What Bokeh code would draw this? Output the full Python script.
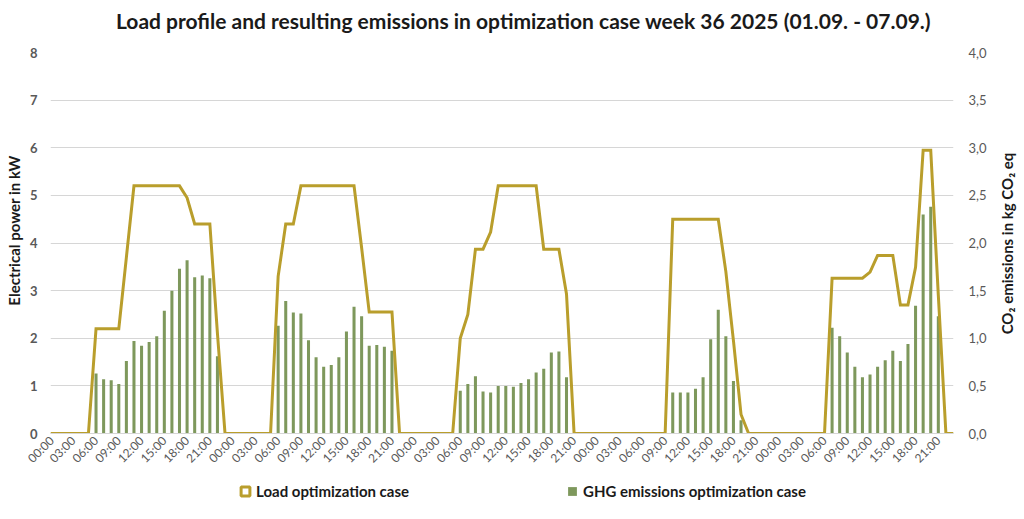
import math
from bokeh.plotting import figure
from bokeh.layouts import column, row
from bokeh.models import (Range1d, LinearAxis, FixedTicker, Legend, LegendItem,
                          ColumnDataSource, Label)
from bokeh.embed import file_html
from bokeh.resources import INLINE

# ---------------- data (hourly, 5 weekdays) ----------------
load_day1 = [0, 0, 0, 0, 0, 0, 2.2, 2.2, 2.2, 2.2, 3.7, 5.2, 5.2, 5.2, 5.2, 5.2, 5.2, 5.2,
             4.95, 4.4, 4.4, 4.4, 2.1, 0]
load_day2 = [0, 0, 0, 0, 0, 0, 3.3, 4.4, 4.4, 5.2, 5.2, 5.2, 5.2, 5.2, 5.2, 5.2, 5.2, 3.9,
             2.55, 2.55, 2.55, 2.55, 0, 0]
load_day3 = [0, 0, 0, 0, 0, 0, 2.0, 2.5, 3.87, 3.87, 4.23, 5.2, 5.2, 5.2, 5.2, 5.2, 5.2, 3.87,
             3.87, 3.87, 2.93, 0, 0, 0]
load_day4 = [0, 0, 0, 0, 0, 0, 0, 0, 0, 0, 4.5, 4.5, 4.5, 4.5, 4.5, 4.5, 4.5, 3.4,
             1.95, 0.4, 0, 0, 0, 0]
load_day5 = [0, 0, 0, 0, 0, 0, 0, 3.26, 3.26, 3.26, 3.26, 3.26, 3.39, 3.74, 3.74, 3.74, 2.7, 2.7,
             3.49, 5.95, 5.95, 2.9, 0, 0]

ghg_day1 = [0, 0, 0, 0, 0, 0, 0.63, 0.57, 0.56, 0.52, 0.76, 0.97, 0.92, 0.96, 1.02, 1.29, 1.50, 1.73,
            1.82, 1.64, 1.66, 1.63, 0.81, 0]
ghg_day2 = [0, 0, 0, 0, 0, 0, 1.13, 1.39, 1.27, 1.26, 0.98, 0.80, 0.70, 0.72, 0.80, 1.07, 1.33, 1.23,
            0.92, 0.93, 0.91, 0.87, 0, 0]
ghg_day3 = [0, 0, 0, 0, 0, 0, 0.45, 0.52, 0.60, 0.44, 0.43, 0.50, 0.50, 0.49, 0.53, 0.57, 0.64, 0.68,
            0.85, 0.86, 0.59, 0, 0, 0]
ghg_day4 = [0, 0, 0, 0, 0, 0, 0, 0, 0, 0, 0.43, 0.43, 0.43, 0.47, 0.59, 0.99, 1.30, 1.02,
            0.55, 0.14, 0, 0, 0, 0]
ghg_day5 = [0, 0, 0, 0, 0, 0, 0, 1.11, 1.02, 0.85, 0.70, 0.59, 0.62, 0.70, 0.77, 0.87, 0.76, 0.94,
            1.34, 2.30, 2.38, 1.23, 0, 0]

day_hour_labels = ["00:00", "03:00", "06:00", "09:00", "12:00", "15:00", "18:00", "21:00"]
n_days = 5
left_ticks = [0, 1, 2, 3, 4, 5, 6, 7, 8]
right_ticks = [0.0, 0.5, 1.0, 1.5, 2.0, 2.5, 3.0, 3.5, 4.0]
right_tick_labels = ["0,0", "0,5", "1,0", "1,5", "2,0", "2,5", "3,0", "3,5", "4,0"]

title_text = "Load profile and resulting emissions in optimization case week 36 2025 (01.09. - 07.09.)"
left_title = "Electrical power in kW"
right_title = "CO\u2082 emissions in kg CO\u2082 eq"
series_load = "Load optimization case"
series_ghg = "GHG emissions optimization case"

# ---------------- build ----------------
load = load_day1 + load_day2 + load_day3 + load_day4 + load_day5
ghg = ghg_day1 + ghg_day2 + ghg_day3 + ghg_day4 + ghg_day5
hours = list(range(len(load)))
src = ColumnDataSource(dict(h=hours, load=load, ghg=ghg))

GOLD = "#B99E2C"
GREEN = "#7E985C"
GRID = "#D6D6D6"
LABEL_GRAY = "#595959"
DARK = "#1a1a1a"
FONT = "Lato"


def strip(w, h):
    f = figure(width=w, height=h, output_backend="svg", toolbar_location=None,
               x_range=Range1d(0, 1), y_range=Range1d(0, 1), min_border=0,
               x_axis_location=None, y_axis_location=None,
               background_fill_color="white", border_fill_color="white")
    f.outline_line_color = None
    f.grid.visible = False
    return f


def vtitle(text, x, y):
    return Label(x=x, y=y, x_units="screen", y_units="screen", text=text,
                 angle=math.pi / 2, text_align="center", text_baseline="middle",
                 text_font=FONT, text_font_size="15px", text_font_style="bold",
                 text_color=DARK)


# ---- title strip ----
ts = strip(1024, 40)
ts.add_layout(Label(x=523, y=20, x_units="screen", y_units="screen", text=title_text,
                    text_align="center", text_baseline="middle", text_font=FONT,
                    text_font_size="21px", text_font_style="bold", text_color=DARK))

# ---- main chart ----
p = figure(width=970, height=433, output_backend="svg", toolbar_location=None,
           x_range=Range1d(0, len(load) - 1), y_range=Range1d(0, 8),
           min_border_left=26, min_border_right=41, min_border_top=12, min_border_bottom=40,
           background_fill_color="white", border_fill_color="white")
p.outline_line_color = None
p.extra_y_ranges = {"em": Range1d(0, 4)}

p.xgrid.visible = False
p.ygrid.grid_line_color = GRID
p.ygrid.grid_line_width = 1
p.ygrid.ticker = FixedTicker(ticks=left_ticks)

xt = []
xo = {}
for d in range(n_days):
    for i, lab in enumerate(day_hour_labels):
        t = d * 24 + i * 3
        xt.append(t)
        xo[t] = lab
xa = p.xaxis[0]
xa.ticker = FixedTicker(ticks=xt)
xa.major_label_overrides = xo
xa.major_label_orientation = math.pi / 4
xa.major_label_text_font = FONT
xa.major_label_text_font_size = "12px"
xa.major_label_text_color = LABEL_GRAY
xa.axis_line_color = GRID
xa.major_tick_line_color = None
xa.minor_tick_line_color = None
xa.major_tick_out = 0
xa.major_tick_in = 0
xa.major_label_standoff = 5

ya = p.yaxis[0]
ya.ticker = FixedTicker(ticks=left_ticks)
ya.major_label_text_font = FONT
ya.major_label_text_font_size = "13px"
ya.major_label_text_font_style = "bold"
ya.major_label_text_color = LABEL_GRAY
ya.axis_line_color = None
ya.major_tick_line_color = None
ya.minor_tick_line_color = None
ya.major_tick_out = 0
ya.major_tick_in = 0
ya.major_label_standoff = 13

ra = LinearAxis(y_range_name="em", ticker=FixedTicker(ticks=right_ticks),
                major_label_overrides={t: s for t, s in zip(right_ticks, right_tick_labels)})
ra.major_label_text_font = FONT
ra.major_label_text_font_size = "13px"
ra.major_label_text_color = LABEL_GRAY
ra.axis_line_color = None
ra.major_tick_line_color = None
ra.minor_tick_line_color = None
ra.major_tick_out = 0
ra.major_tick_in = 0
ra.major_label_standoff = 15
p.add_layout(ra, "right")

p.vbar(x="h", top="ghg", width=0.4, source=src, y_range_name="em",
       fill_color=GREEN, line_color=None)
p.line(x="h", y="load", source=src, line_color=GOLD, line_width=3, line_join="miter")

# ---- axis title strips ----
ls = strip(24, 433)
ls.add_layout(vtitle(left_title, 13, 203))
rs = strip(30, 433)
rs.add_layout(vtitle(right_title, 12, 190))

# ---- legend strip ----
lg = strip(1024, 46)
nan = float("nan")
r1 = lg.scatter(x=[nan], y=[nan], marker="square", size=10, fill_color="white",
                line_color=GOLD, line_width=3)
r2 = lg.scatter(x=[nan], y=[nan], marker="square", size=10, fill_color=GREEN,
                line_color=None)
legend = Legend(items=[LegendItem(label=series_load, renderers=[r1]),
                       LegendItem(label=series_ghg, renderers=[r2])],
                orientation="horizontal", location=(234, 17),
                glyph_width=22, glyph_height=22, label_standoff=0,
                label_width=305, spacing=0, padding=0, margin=0,
                background_fill_alpha=0, border_line_color=None,
                label_text_font=FONT, label_text_font_size="15px",
                label_text_font_style="bold", label_text_color=DARK)
lg.add_layout(legend, "center")

layout = column(ts, row(ls, p, rs, spacing=0), lg, spacing=0)
open("out.html", "w").write(file_html(layout, INLINE))
